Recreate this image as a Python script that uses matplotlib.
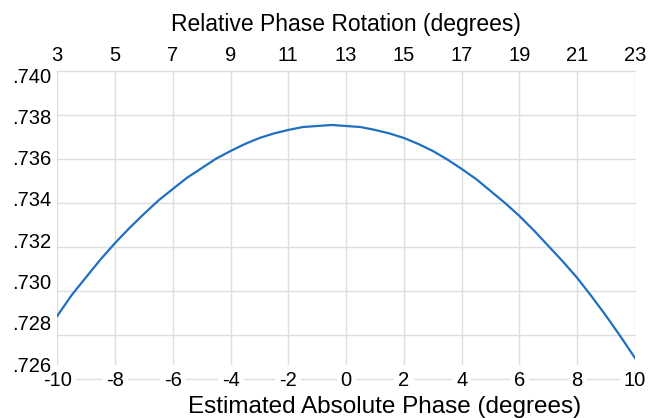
import matplotlib

matplotlib.use("Agg")
import matplotlib.pyplot as plt
from matplotlib.ticker import FuncFormatter

plt.rcParams["font.family"] = ["Liberation Sans", "DejaVu Sans"]
plt.rcParams["axes.unicode_minus"] = False

# estimated absolute phase (degrees) and the resulting score
abs_phase = [-10, -9.5, -9, -8.5, -8, -7.5, -7, -6.5, -6, -5.5, -5,
             -4.5, -4, -3.5, -3, -2.5, -2, -1.5, -1, -0.5, 0,
             0.5, 1, 1.5, 2, 2.5, 3, 3.5, 4, 4.5, 5,
             5.5, 6, 6.5, 7, 7.5, 8, 8.5, 9, 9.5, 10]
score = [0.72833, 0.72934, 0.73021, 0.73107, 0.73186, 0.73259, 0.73327,
         0.73392, 0.73448, 0.73503, 0.73549, 0.73595, 0.73632, 0.73666,
         0.73695, 0.73717, 0.73734, 0.73748, 0.73753, 0.73758, 0.73753,
         0.73748, 0.73734, 0.73717, 0.73695, 0.73666, 0.73632, 0.73591,
         0.73545, 0.73496, 0.73438, 0.73380, 0.73317, 0.73247, 0.73172,
         0.73097, 0.73017, 0.72927, 0.72833, 0.72733, 0.72629]

phase_offset = 13  # relative rotation = absolute phase + offset
bottom_ticks = list(range(-10, 11, 2))
top_ticks = list(range(3, 24, 2))
y_ticks = [0.740, 0.738, 0.736, 0.734, 0.732, 0.730, 0.728, 0.726]

GRID = "#dedede"
LINE = "#1f70c1"
TICK_SIZE = 14.5

fig = plt.figure(figsize=(6.56, 4.18), dpi=100)
ax = fig.add_axes([0.0873, 0.1268, 0.8807, 0.7033])

ax.plot(abs_phase, score, color=LINE, linewidth=1.6, zorder=3)

ax.set_xlim(-10, 10)
ax.set_ylim(0.725952, 0.740194)
ax.set_xticks(bottom_ticks)
ax.set_yticks(y_ticks)
ax.yaxis.set_major_formatter(FuncFormatter(lambda v, _: f"{v:.3f}".lstrip("0")))

for s in ax.spines.values():
    s.set_visible(False)
ax.tick_params(length=0, labelsize=TICK_SIZE, colors="black")
ax.tick_params(axis="x", pad=4)
ax.tick_params(axis="y", pad=4)
ax.grid(axis="x", color=GRID, linewidth=1.0)

# horizontal rules, evenly spaced from the top edge down past the axis labels
for frac in [1.0, 0.8503, 0.7007, 0.551, 0.4014, 0.2517, 0.102, -0.0476]:
    ax.plot([0, 1], [frac, frac], transform=ax.transAxes, color=GRID,
            linewidth=1.0, clip_on=False, zorder=0.5)

for lbl in ax.get_xticklabels():
    lbl.set_bbox(dict(facecolor="white", edgecolor="none", boxstyle="square,pad=0.2"))

ax.set_xlabel("Estimated Absolute Phase (degrees)", fontsize=17.5)
ax.xaxis.set_label_coords(0.566, -0.105)
ax.xaxis.label.set_verticalalignment("top")

top = ax.secondary_xaxis("top", functions=(lambda x: x + phase_offset,
                                           lambda x: x - phase_offset))
top.set_xticks(top_ticks)
top.tick_params(length=0, labelsize=TICK_SIZE, pad=4)
top.spines["top"].set_visible(False)
top.set_xlabel("Relative Phase Rotation (degrees)", fontsize=16.5, labelpad=11)

fig.savefig("out.png", dpi=100)
